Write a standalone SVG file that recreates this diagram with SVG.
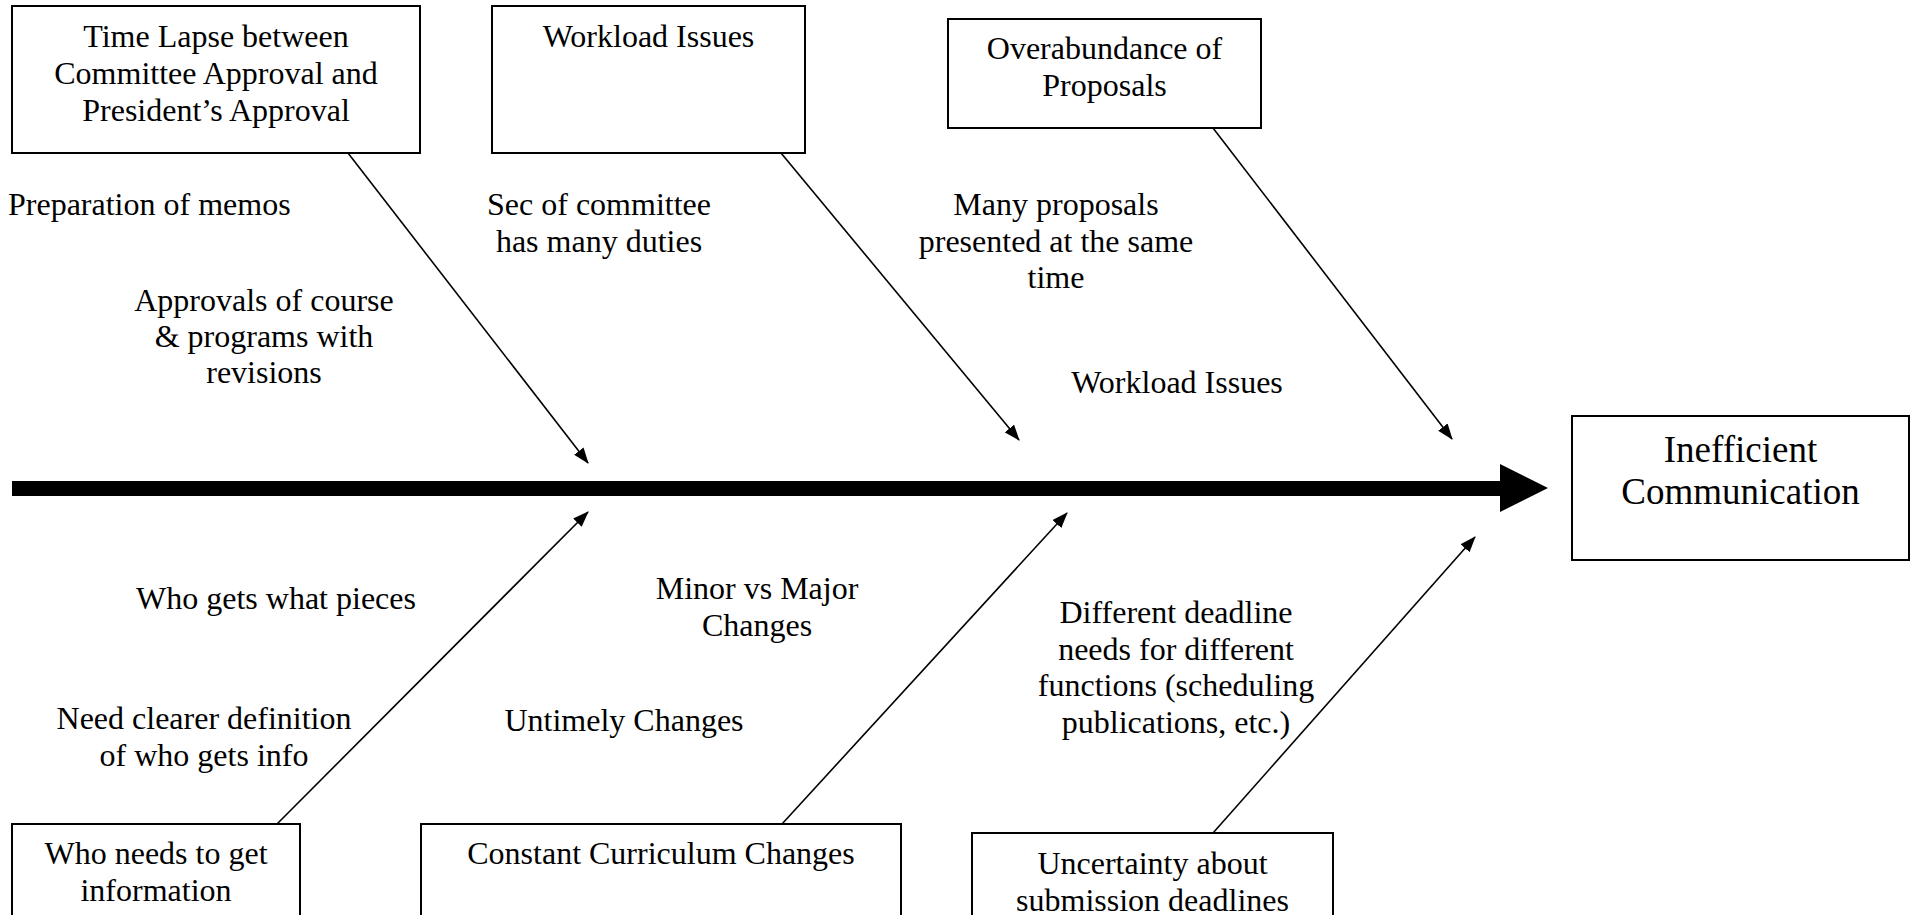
<svg xmlns="http://www.w3.org/2000/svg" width="1911" height="917" viewBox="0 0 1911 917">
<style>
  .box { fill: #ffffff; stroke: #000000; stroke-width: 2; }
  .t { font-size: 32px; fill: #000000; text-anchor: middle; }
  .tl { font-size: 32px; fill: #000000; text-anchor: start; }
  .big { font-size: 37px; fill: #000000; text-anchor: middle; }
  .bone { fill: none; stroke: #000000; stroke-width: 1.6; marker-end: url(#ah); }
</style>
<defs>
  <marker id="ah" markerWidth="16" markerHeight="12" refX="15" refY="6" orient="auto" markerUnits="userSpaceOnUse">
    <path d="M0,0 L16,6 L0,12 z" fill="#000000"/>
  </marker>
  <clipPath id="page"><rect x="0" y="0" width="1911" height="915"/></clipPath>
</defs>
<rect x="0" y="0" width="1911" height="917" fill="#ffffff"/>
<g clip-path="url(#page)" font-family="Liberation Serif, serif">
  <g id="spine">
    <path d="M12,481 L1500,481 L1500,464 L1548,488 L1500,512 L1500,496 L12,496 z" fill="#000000"/>
  </g>
  <g id="connectors">
    <line class="bone" x1="348" y1="153" x2="588" y2="463"/>
    <line class="bone" x1="781" y1="153" x2="1019" y2="440"/>
    <line class="bone" x1="1213" y1="128" x2="1452" y2="439"/>
    <line class="bone" x1="277" y1="824" x2="588" y2="512"/>
    <line class="bone" x1="782" y1="824" x2="1067" y2="513"/>
    <line class="bone" x1="1213" y1="833" x2="1475" y2="537"/>
  </g>
  <g id="node-time-lapse">
    <rect class="box" x="12" y="6" width="408" height="147"/>
    <text class="t" x="216" y="47">Time Lapse between</text>
    <text class="t" x="216" y="84">Committee Approval and</text>
    <text class="t" x="216" y="121">President’s Approval</text>
  </g>
  <g id="node-workload">
    <rect class="box" x="492" y="6" width="313" height="147"/>
    <text class="t" x="648.5" y="47">Workload Issues</text>
  </g>
  <g id="node-overabundance">
    <rect class="box" x="948" y="19" width="313" height="109"/>
    <text class="t" x="1104.5" y="59">Overabundance of</text>
    <text class="t" x="1104.5" y="96">Proposals</text>
  </g>
  <g id="node-effect">
    <rect class="box" x="1572" y="416" width="337" height="144"/>
    <text class="big" x="1740.5" y="462">Inefficient</text>
    <text class="big" x="1740.5" y="504">Communication</text>
  </g>
  <g id="node-who-needs">
    <rect class="box" x="12" y="824" width="288" height="120"/>
    <text class="t" x="156" y="864">Who needs to get</text>
    <text class="t" x="156" y="901">information</text>
  </g>
  <g id="node-curriculum">
    <rect class="box" x="421" y="824" width="480" height="120"/>
    <text class="t" x="661" y="864">Constant Curriculum Changes</text>
  </g>
  <g id="node-uncertainty">
    <rect class="box" x="972" y="833" width="361" height="120"/>
    <text class="t" x="1152.5" y="874">Uncertainty about</text>
    <text class="t" x="1152.5" y="911">submission deadlines</text>
  </g>
  <g id="labels">
    <text class="tl" x="8" y="215">Preparation of memos</text>
    <text class="t" x="264" y="311">Approvals of course</text>
    <text class="t" x="264" y="347">&amp; programs with</text>
    <text class="t" x="264" y="383">revisions</text>
    <text class="t" x="599" y="215">Sec of committee</text>
    <text class="t" x="599" y="252">has many duties</text>
    <text class="t" x="1056" y="215">Many proposals</text>
    <text class="t" x="1056" y="252">presented at the same</text>
    <text class="t" x="1056" y="288">time</text>
    <text class="t" x="1177" y="393">Workload Issues</text>
    <text class="t" x="276" y="609">Who gets what pieces</text>
    <text class="t" x="204" y="729">Need clearer definition</text>
    <text class="t" x="204" y="766">of who gets info</text>
    <text class="t" x="624" y="731">Untimely Changes</text>
    <text class="t" x="757" y="599">Minor vs Major</text>
    <text class="t" x="757" y="636">Changes</text>
    <text class="t" x="1176" y="623">Different deadline</text>
    <text class="t" x="1176" y="660">needs for different</text>
    <text class="t" x="1176" y="696">functions (scheduling</text>
    <text class="t" x="1176" y="733">publications, etc.)</text>
  </g>
</g>
</svg>
